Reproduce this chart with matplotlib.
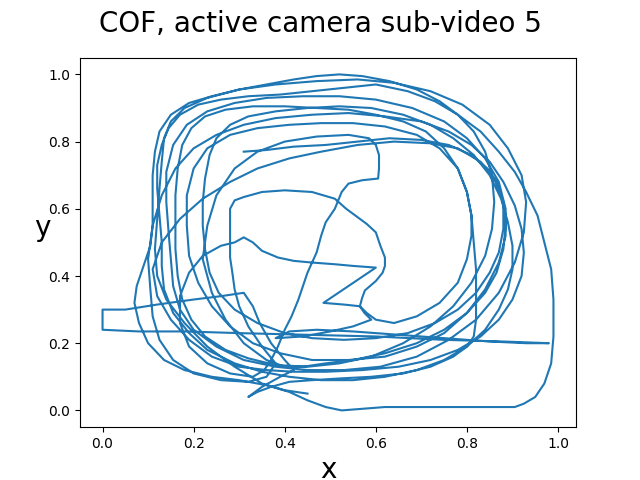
import numpy as np
import matplotlib.pyplot as plt

# COF track
lap1_x = [0.31, 0.36, 0.42, 0.49, 0.56, 0.63, 0.70, 0.76, 0.81, 0.845, 0.87, 0.88, 0.88, 0.87, 0.85, 0.82, 0.78, 0.73, 0.67, 0.60,
          0.53, 0.46, 0.40, 0.34, 0.29, 0.255, 0.235, 0.225, 0.22, 0.22, 0.225, 0.235, 0.25, 0.28, 0.32, 0.38, 0.45, 0.52, 0.59]
lap1_y = [0.77, 0.775, 0.785, 0.79, 0.80, 0.81, 0.805, 0.79, 0.76, 0.72, 0.67, 0.61, 0.54, 0.47, 0.41, 0.35, 0.30, 0.26, 0.23, 0.215,
          0.21, 0.215, 0.23, 0.26, 0.30, 0.35, 0.41, 0.48, 0.55, 0.62, 0.69, 0.76, 0.81, 0.85, 0.875, 0.89, 0.90, 0.905, 0.90]

lap2_x = [0.66, 0.72, 0.77, 0.815, 0.85, 0.875, 0.89, 0.90, 0.90, 0.89, 0.87, 0.84, 0.80, 0.75, 0.69, 0.62, 0.55, 0.48, 0.41, 0.35,
          0.29, 0.23, 0.19, 0.155, 0.135, 0.13, 0.13, 0.125, 0.12, 0.12, 0.13, 0.145, 0.17, 0.21, 0.26, 0.32, 0.39, 0.46, 0.53]
lap2_y = [0.88, 0.85, 0.81, 0.76, 0.70, 0.63, 0.56, 0.49, 0.42, 0.36, 0.30, 0.24, 0.19, 0.15, 0.12, 0.10, 0.09, 0.09, 0.10, 0.115,
          0.14, 0.18, 0.23, 0.29, 0.36, 0.43, 0.50, 0.58, 0.66, 0.73, 0.79, 0.84, 0.88, 0.91, 0.925, 0.935, 0.94, 0.95, 0.96]

lap3_x = [0.60, 0.67, 0.73, 0.78, 0.83, 0.87, 0.905, 0.93, 0.955, 0.97, 0.985, 0.99, 0.99, 0.985, 0.97, 0.95, 0.925, 0.905, 0.82, 0.72,
          0.62, 0.525, 0.49, 0.45, 0.41, 0.36, 0.30, 0.24, 0.18, 0.135, 0.10, 0.08, 0.07, 0.075, 0.09, 0.105, 0.11, 0.11, 0.11, 0.115,
          0.125, 0.15, 0.19, 0.24, 0.30, 0.36, 0.42, 0.47, 0.52]
lap3_y = [0.97, 0.95, 0.92, 0.88, 0.83, 0.77, 0.71, 0.65, 0.58, 0.50, 0.42, 0.33, 0.22, 0.14, 0.08, 0.04, 0.02, 0.01, 0.01, 0.01,
          0.01, 0.00, 0.01, 0.03, 0.055, 0.075, 0.09, 0.10, 0.12, 0.15, 0.20, 0.26, 0.32, 0.37, 0.43, 0.49, 0.55, 0.62, 0.70, 0.77,
          0.83, 0.88, 0.915, 0.935, 0.955, 0.97, 0.985, 0.995, 1.0]

lap4_x = [0.57, 0.63, 0.69, 0.74, 0.78, 0.815, 0.84, 0.855, 0.86, 0.855, 0.84, 0.81, 0.77, 0.72, 0.66, 0.59, 0.52, 0.45, 0.38, 0.32,
          0.27, 0.225, 0.195, 0.175, 0.165, 0.16, 0.16, 0.16, 0.165, 0.175, 0.195, 0.225, 0.27, 0.33, 0.40, 0.47, 0.54]
lap4_y = [0.995, 0.98, 0.955, 0.92, 0.88, 0.83, 0.77, 0.70, 0.62, 0.54, 0.46, 0.38, 0.31, 0.25, 0.20, 0.16, 0.14, 0.13, 0.135, 0.155,
          0.18, 0.22, 0.27, 0.33, 0.40, 0.48, 0.56, 0.64, 0.72, 0.79, 0.84, 0.875, 0.895, 0.905, 0.905, 0.90, 0.895]

lap5_x = [0.60, 0.66, 0.71, 0.75, 0.78, 0.80, 0.81, 0.815, 0.82, 0.82, 0.82, 0.815, 0.80, 0.77, 0.72, 0.66, 0.59, 0.52, 0.46, 0.41,
          0.37, 0.34, 0.32, 0.35, 0.39, 0.42]
lap5_y = [0.88, 0.86, 0.83, 0.78, 0.72, 0.65, 0.58, 0.50, 0.42, 0.34, 0.27, 0.22, 0.19, 0.16, 0.13, 0.11, 0.10, 0.095, 0.09, 0.085,
          0.07, 0.055, 0.04, 0.07, 0.10, 0.12]

# jump to the left edge and the long spike to the right
jump_x = [0.40, 0.37, 0.345, 0.33, 0.31, 0.26, 0.20, 0.12, 0.05, 0.0, 0.0, 0.08, 0.18, 0.30, 0.45, 0.60, 0.75, 0.88, 0.98, 0.93,
          0.85, 0.75, 0.65, 0.55, 0.47, 0.41, 0.38]
jump_y = [0.15, 0.20, 0.26, 0.31, 0.35, 0.34, 0.33, 0.315, 0.30, 0.30, 0.24, 0.235, 0.235, 0.23, 0.225, 0.22, 0.21, 0.205, 0.20, 0.20,
          0.205, 0.215, 0.225, 0.235, 0.24, 0.235, 0.215]

inner_x = [0.44, 0.50, 0.55, 0.59, 0.575, 0.565, 0.57, 0.576, 0.60, 0.615, 0.62, 0.62, 0.61, 0.60, 0.58, 0.56, 0.535, 0.51, 0.46, 0.40,
           0.35, 0.31, 0.29, 0.28, 0.28, 0.28, 0.28, 0.285, 0.29, 0.30, 0.32, 0.35]
inner_y = [0.22, 0.235, 0.25, 0.27, 0.29, 0.31, 0.335, 0.357, 0.385, 0.41, 0.43, 0.455, 0.49, 0.53, 0.555, 0.575, 0.60, 0.63, 0.65, 0.655,
           0.65, 0.635, 0.625, 0.60, 0.575, 0.51, 0.455, 0.41, 0.36, 0.31, 0.25, 0.19]

lap6_x = [0.38, 0.36, 0.32, 0.26, 0.20, 0.155, 0.125, 0.11, 0.105, 0.10, 0.11, 0.13, 0.16, 0.20, 0.25, 0.31, 0.38, 0.46, 0.54, 0.62,
          0.70, 0.76, 0.81, 0.85, 0.88, 0.905, 0.92, 0.925, 0.92, 0.90, 0.87, 0.83, 0.78, 0.72, 0.65, 0.57, 0.49, 0.42, 0.36]
lap6_y = [0.14, 0.10, 0.085, 0.09, 0.11, 0.15, 0.21, 0.28, 0.36, 0.45, 0.55, 0.64, 0.72, 0.78, 0.82, 0.85, 0.87, 0.88, 0.885, 0.875,
          0.86, 0.83, 0.79, 0.74, 0.68, 0.61, 0.54, 0.47, 0.40, 0.33, 0.27, 0.22, 0.18, 0.15, 0.13, 0.12, 0.115, 0.115, 0.12]

lap7_x = [0.30, 0.24, 0.19, 0.15, 0.12, 0.11, 0.13, 0.17, 0.22, 0.28, 0.34, 0.41, 0.48, 0.56, 0.64, 0.72, 0.78, 0.83, 0.86, 0.88,
          0.885, 0.88, 0.865, 0.84, 0.80, 0.75, 0.69, 0.62, 0.55, 0.49, 0.44]
lap7_y = [0.13, 0.16, 0.21, 0.27, 0.34, 0.42, 0.50, 0.57, 0.63, 0.68, 0.72, 0.75, 0.77, 0.79, 0.80, 0.795, 0.78, 0.74, 0.69, 0.62,
          0.55, 0.48, 0.41, 0.35, 0.29, 0.24, 0.20, 0.17, 0.15, 0.14, 0.13]

lap8_x = [0.40, 0.36, 0.31, 0.27, 0.24, 0.22, 0.23, 0.25, 0.29, 0.34, 0.40, 0.47, 0.54, 0.585, 0.60, 0.607, 0.607, 0.605, 0.57, 0.54,
          0.525, 0.51, 0.49, 0.48, 0.47, 0.45, 0.44, 0.43, 0.415, 0.40, 0.385, 0.37, 0.355]
lap8_y = [0.13, 0.15, 0.20, 0.27, 0.35, 0.45, 0.55, 0.64, 0.72, 0.77, 0.80, 0.815, 0.82, 0.81, 0.79, 0.76, 0.72, 0.69, 0.685, 0.675,
          0.65, 0.60, 0.56, 0.52, 0.47, 0.41, 0.37, 0.33, 0.28, 0.24, 0.19, 0.15, 0.12]

spike_x = [0.33, 0.28, 0.23, 0.19, 0.17, 0.17, 0.19, 0.22, 0.26, 0.29, 0.31, 0.33, 0.35, 0.385, 0.42, 0.46, 0.51, 0.55, 0.60, 0.485,
           0.53, 0.565, 0.58, 0.60, 0.64, 0.69, 0.74, 0.78, 0.80, 0.81, 0.81, 0.80, 0.78, 0.74, 0.69, 0.62, 0.55, 0.48]
spike_y = [0.10, 0.11, 0.14, 0.19, 0.26, 0.34, 0.41, 0.46, 0.49, 0.50, 0.515, 0.50, 0.475, 0.455, 0.445, 0.44, 0.435, 0.43, 0.425, 0.32,
           0.315, 0.31, 0.29, 0.27, 0.26, 0.28, 0.32, 0.38, 0.45, 0.52, 0.58, 0.65, 0.72, 0.78, 0.82, 0.845, 0.855, 0.855]

lap9_x = [0.41, 0.34, 0.28, 0.23, 0.20, 0.185, 0.185, 0.19, 0.21, 0.24, 0.28, 0.33, 0.39, 0.46, 0.54, 0.62, 0.69, 0.75, 0.80, 0.84,
          0.87, 0.885, 0.885, 0.87, 0.84, 0.80, 0.75, 0.68, 0.60, 0.52, 0.44, 0.36, 0.29, 0.23, 0.185, 0.155, 0.14, 0.14, 0.145, 0.15,
          0.155, 0.17, 0.20, 0.25, 0.31, 0.38, 0.45]
lap9_y = [0.85, 0.84, 0.82, 0.78, 0.72, 0.64, 0.55, 0.46, 0.38, 0.31, 0.25, 0.20, 0.17, 0.15, 0.15, 0.16, 0.19, 0.23, 0.29, 0.36,
          0.44, 0.52, 0.60, 0.68, 0.75, 0.81, 0.86, 0.90, 0.925, 0.935, 0.935, 0.93, 0.915, 0.89, 0.85, 0.79, 0.71, 0.62, 0.53, 0.45,
          0.37, 0.30, 0.24, 0.19, 0.15, 0.13, 0.12]

lap10_x = [0.53, 0.61, 0.69, 0.76, 0.82, 0.87, 0.905, 0.925, 0.93, 0.92, 0.89, 0.85, 0.79, 0.72, 0.64, 0.56, 0.47, 0.38, 0.30, 0.23,
           0.18, 0.15, 0.135, 0.13, 0.125, 0.12, 0.115, 0.12, 0.14, 0.18, 0.23, 0.29, 0.35, 0.40, 0.45]
lap10_y = [0.12, 0.13, 0.16, 0.21, 0.27, 0.35, 0.44, 0.53, 0.62, 0.70, 0.78, 0.85, 0.91, 0.95, 0.975, 0.985, 0.98, 0.97, 0.955, 0.93,
           0.90, 0.86, 0.81, 0.74, 0.66, 0.57, 0.48, 0.40, 0.33, 0.26, 0.19, 0.13, 0.08, 0.06, 0.05]

x_vals = (lap1_x + lap2_x + lap3_x + lap4_x + lap5_x + jump_x + inner_x + lap6_x + lap7_x + lap8_x
          + spike_x + lap9_x + lap10_x)
y_vals = (lap1_y + lap2_y + lap3_y + lap4_y + lap5_y + jump_y + inner_y + lap6_y + lap7_y + lap8_y
          + spike_y + lap9_y + lap10_y)

fig, ax = plt.subplots(figsize=(6.4, 4.8), dpi=100)
ax.plot(x_vals, y_vals, color='#1f77b4')
ax.set_xlabel('x', fontsize=20)
ax.set_ylabel('y', fontsize=20, rotation=0)
fig.suptitle('COF, active camera sub-video 5', fontsize=20)
plt.savefig('out.png')
